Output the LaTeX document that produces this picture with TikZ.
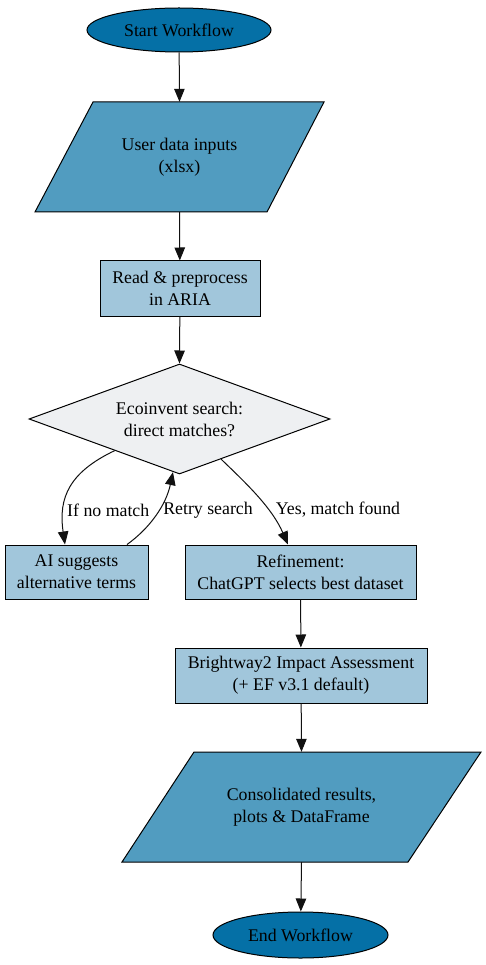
\documentclass[tikz,border=0pt]{standalone}
\usepackage{fontspec}
\setmainfont{Liberation Serif}
\newfontfamily\tmfont{Liberation Serif}
\usetikzlibrary{shapes.geometric,arrows.meta,calc}
\definecolor{cdark}{HTML}{0570A6}
\definecolor{cmid}{HTML}{519CC0}
\definecolor{clight}{HTML}{A1C6DB}
\definecolor{cgray}{HTML}{EEF0F2}
\definecolor{cedge}{HTML}{111111}
\begin{document}
\begin{tikzpicture}[x=1pt,y=-1pt,
  every node/.style={font=\tmfont\fontsize{17.8}{22}\selectfont, align=center, text=black},
  term/.style={ellipse, draw=black, line width=1pt, fill=cdark, inner sep=0pt},
  procbox/.style={rectangle, draw=black, line width=1pt, fill=clight, inner sep=0pt},
  iobox/.style={rectangle, draw=none, inner sep=0pt},
  iofill/.style={draw=black, line width=1pt, fill=cmid},
  decbox/.style={diamond, draw=black, line width=1pt, fill=cgray, inner sep=0pt, aspect=2.7},
  conn/.style={draw=cedge, line width=1pt, -{Triangle[length=13pt,width=10.5pt]}},
  lab/.style={font=\tmfont\fontsize{17.8}{22}\selectfont, inner sep=0pt}
]
\useasboundingbox (0,0) rectangle (486,965);

% start
\node[term, minimum width=184, minimum height=44] (start) at (179,30) {Start Workflow};

% user data inputs
\draw[iofill] (93,102) -- (324,102) -- (267,212) -- (35,212) -- cycle;
\node[iobox, minimum width=231, minimum height=110] (ui) at (179.5,157) {User data inputs\\(xlsx)};

% read
\node[procbox, minimum width=160, minimum height=55] (read) at (180,288.5) {Read \& preprocess\\in ARIA};

% diamond
\node[decbox, minimum width=301, minimum height=110] (dec) at (179.5,419) {Ecoinvent search:\\direct matches?};

% AI
\node[procbox, minimum width=143, minimum height=54] (ai) at (76.5,572) {AI suggests\\alternative terms};

% refinement
\node[procbox, minimum width=231, minimum height=54] (ref) at (300.5,572) {Refinement:\\ChatGPT selects best dataset};

% brightway
\node[procbox, minimum width=252, minimum height=55] (bw) at (301,675.5) {Brightway2 Impact Assessment\\(+ EF v3.1 default)};

% consolidated
\draw[iofill] (194,752) -- (481,752) -- (408,862) -- (122,862) -- cycle;
\node[iobox, minimum width=287, minimum height=110] (cons) at (301.5,807) {Consolidated results,\\plots \& DataFrame};

% end
\node[term, minimum width=175, minimum height=46] (end) at (300.5,935) {End Workflow};

% edges
\draw[conn] (start) -- (ui.north);
\draw[conn] (ui.south) -- (read);
\draw[conn] (read) -- (dec.north);
\draw[conn] (dec.206) .. controls (70,472) and (58,497) .. ($(ai.north)+(-11.5,0)$);
\draw[conn] ($(ai.north)+(50.5,0)$) .. controls (150,528) and (166,505) .. (dec.263);
\draw[conn] (dec.-44) .. controls (248,485) and (272,508) .. ($(ref.north)+(-12.5,0)$);
\draw[conn] (ref) -- (bw);
\draw[conn] (bw) -- (cons.north);
\draw[conn] (cons.south) -- (end);

% labels
\node[lab, anchor=west] (l1) at (67,510) {If no match};
\node[lab] (l2) at (208,510) {Retry search};
\node[lab] (l3) at (338,510) {Yes, match found};
\end{tikzpicture}
\end{document}
